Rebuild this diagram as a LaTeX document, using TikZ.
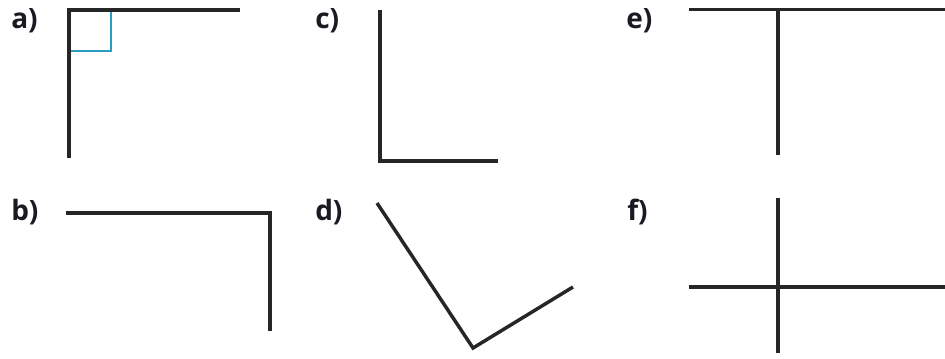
\documentclass[tikz,border=0pt]{standalone}
\usepackage{fontspec}
\setmainfont{Open Sans}
\definecolor{ink}{HTML}{262626}
\definecolor{lbl}{HTML}{1A1A22}
\definecolor{mark}{HTML}{2A9DC4}
\begin{document}
\begin{tikzpicture}[x=0.75pt,y=-0.75pt,
  lineart/.style={draw=ink,line width=2.6pt,line join=miter},
  rightmark/.style={draw=mark,line width=2.1pt,line join=miter},
  lab/.style={anchor=base west,inner sep=0pt,text=lbl,font=\fontsize{21}{25}\selectfont\bfseries}]
\useasboundingbox (0,0) rectangle (945,358);
% labels
\node[lab] (la) at (11,28) {a)};
\node[lab] (lb) at (11,220) {b)};
\node[lab] (lc) at (315,28) {c)};
\node[lab] (ld) at (315,220) {d)};
\node[lab] (le) at (626,28) {e)};
\node[lab] (lf) at (627,220) {f)};
% a)
\coordinate (a1) at (69,158);
\coordinate (a2) at (69,10);
\coordinate (a3) at (240,10);
\draw[rightmark] (69,51) -- (111,51) -- (111,10);
\draw[lineart] (a1) -- (a2) -- (a3);
% b)
\coordinate (b1) at (66,213);
\coordinate (b2) at (270,213);
\coordinate (b3) at (270,331);
\draw[lineart] (b1) -- (b2) -- (b3);
% c)
\coordinate (c1) at (380,10);
\coordinate (c2) at (380,161);
\coordinate (c3) at (498,161);
\draw[lineart] (c1) -- (c2) -- (c3);
% d)
\coordinate (d1) at (377,203);
\coordinate (d2) at (473,348);
\coordinate (d3) at (573,287);
\draw[lineart] (d1) -- (d2) -- (d3);
% e)
\coordinate (e1) at (689,9.5);
\coordinate (e2) at (945,9.5);
\coordinate (e3) at (778,9.5);
\coordinate (e4) at (778,155);
\draw[lineart] (e1) -- (e2);
\draw[lineart] (e3) -- (e4);
% f)
\coordinate (f1) at (778,198);
\coordinate (f2) at (778,353);
\coordinate (f3) at (689,287);
\coordinate (f4) at (945,287);
\draw[lineart] (f1) -- (f2);
\draw[lineart] (f3) -- (f4);
\end{tikzpicture}
\end{document}
